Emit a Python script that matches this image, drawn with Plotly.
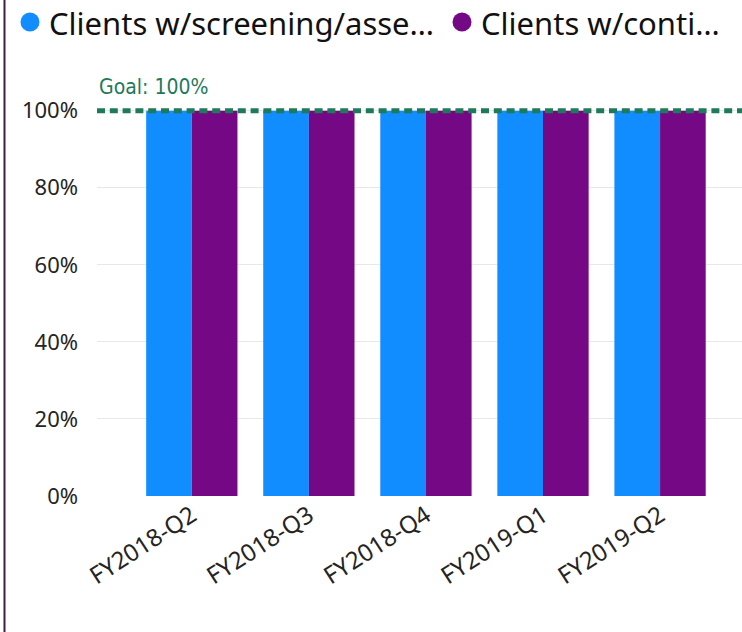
import plotly.graph_objects as go

categories = ["FY2018-Q2", "FY2018-Q3", "FY2018-Q4", "FY2019-Q1", "FY2019-Q2"]
series_names = ["Clients w/screening/asse…", "Clients w/conti…"]
screening_values = [100, 100, 100, 100, 100]
continuing_values = [100, 100, 100, 100, 100]
goal_value = 100
goal_label = "Goal: 100%"
y_ticks = [0, 20, 40, 60, 80, 100]

colors = ["#118DFF", "#750985"]
green = "#1F7A5C"

W, H = 742, 632
ML, MR, MT, MB = 97, 0, 70, 136
PW, PH = W - ML - MR, H - MT - MB


def px_to_paper_x(px):
    return (px - ML) / PW


def px_to_paper_y(py):
    return (H - MB - py) / PH


fig = go.Figure()
for name, vals, c in zip(series_names, [screening_values, continuing_values], colors):
    fig.add_trace(go.Bar(x=categories, y=vals, name=name, marker_color=c,
                         marker_line_width=0, showlegend=False))

fig.add_shape(type="line", xref="paper", x0=0, x1=1, yref="y", y0=goal_value, y1=goal_value,
              line=dict(color=green, width=5, dash="8px,4.8px"), layer="above")
fig.add_annotation(xref="paper", x=px_to_paper_x(97), yref="y", y=goal_value, text=goal_label,
                   showarrow=False, xanchor="left", yanchor="bottom", yshift=10,
                   font=dict(family="DejaVu Sans Condensed", size=21, color=green))
# left border
fig.add_shape(type="line", xref="paper", x0=px_to_paper_x(4.5), x1=px_to_paper_x(4.5),
              yref="paper", y0=px_to_paper_y(H + 5), y1=px_to_paper_y(-5),
              line=dict(color="#3F1A4D", width=2))

# legend drawn as markers + text
legend_pos = [(30, 47), (462, 479)]
for (cx, tx), name, c in zip(legend_pos, series_names, colors):
    fig.add_shape(type="circle", xref="paper", yref="paper",
                  xsizemode="pixel", ysizemode="pixel",
                  xanchor=px_to_paper_x(cx), yanchor=px_to_paper_y(22),
                  x0=-9.5, x1=9.5, y0=-9.5, y1=9.5,
                  fillcolor=c, line=dict(width=0))
    fig.add_annotation(xref="paper", yref="paper", x=px_to_paper_x(tx), y=px_to_paper_y(23),
                       text=name, showarrow=False, xanchor="left", yanchor="middle",
                       font=dict(family="Noto Sans", size=31, color="#111111"))

fig.update_layout(
    width=W, height=H,
    margin=dict(l=ML, r=MR, t=MT, b=MB),
    paper_bgcolor="white", plot_bgcolor="white",
    barmode="group", bargap=0.22, bargroupgap=0,
    showlegend=False,
    font=dict(family="Noto Sans", color="#252423"),
    xaxis=dict(range=[-0.81, 4.70], tickangle=-33, showgrid=False, automargin=False,
               tickfont=dict(size=24, family="Noto Sans", color="#252423"),
               ticks="", showline=False),
    yaxis=dict(range=[0, 100 + (110.7 - MT) / 3.853], tickvals=y_ticks,
               ticktext=[f"{v}%" for v in y_ticks], automargin=False,
               showgrid=True, gridcolor="#E8E8E8", gridwidth=1, zeroline=False,
               tickfont=dict(size=22, color="#252423"), ticks="", ticklabelstandoff=18),
)

fig.write_html("out.html", config={"displayModeBar": False},
               post_script="document.body.style.margin='0';")
